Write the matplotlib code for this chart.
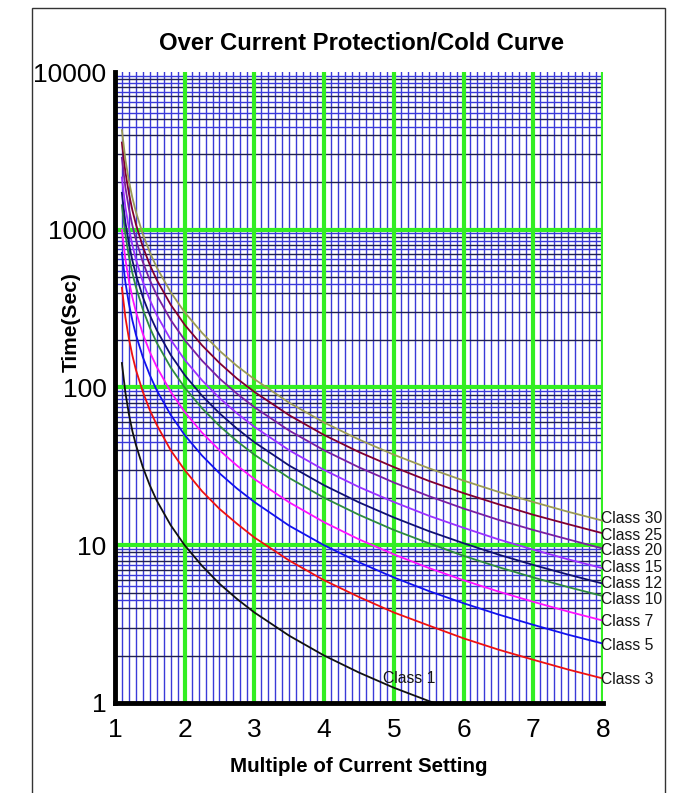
import matplotlib
matplotlib.use('Agg')
import matplotlib.pyplot as plt
from matplotlib.patches import Rectangle

plt.rcParams['font.family'] = ['Liberation Sans', 'DejaVu Sans']

# Multiple of current setting where curves were read
multiple = [1.1, 1.15, 1.2, 1.25, 1.3, 1.4, 1.5, 1.6, 1.8, 2, 2.25, 2.5, 2.75,
            3, 3.5, 4, 4.5, 5, 5.5, 6, 6.5, 7, 7.5, 8]

# Trip times (sec) for each class
class1 = [143, 93, 68, 53, 43.5, 31.3, 24, 19.2, 13.4, 10, 7.4, 5.7, 4.57,
          3.75, 2.67, 2.0, 1.56, 1.25, 1.03, 0.86, 0.73, 0.63, 0.54, 0.48]
class3 = [429, 279, 205, 160, 130, 94, 72, 58, 40, 30, 22, 17, 13.7,
          11.2, 8.0, 6.0, 4.7, 3.75, 3.1, 2.57, 2.18, 1.88, 1.63, 1.43]
class5 = [714, 465, 341, 267, 217, 156, 120, 96, 67, 50, 37, 28.6, 22.9,
          18.8, 13.3, 10.0, 7.8, 6.25, 5.13, 4.29, 3.64, 3.13, 2.71, 2.38]
class7 = [1000, 651, 477, 373, 304, 219, 168, 135, 94, 70, 51.7, 40, 32,
          26.3, 18.7, 14.0, 10.9, 8.75, 7.18, 6.0, 5.09, 4.38, 3.80, 3.33]
class10 = [1429, 930, 682, 533, 435, 313, 240, 192, 134, 100, 73.8, 57.1, 45.7,
           37.5, 26.7, 20.0, 15.6, 12.5, 10.3, 8.57, 7.27, 6.25, 5.43, 4.76]
class12 = [1714, 1116, 818, 640, 522, 375, 288, 231, 161, 120, 88.6, 68.6, 54.9,
           45, 32, 24, 18.7, 15, 12.3, 10.3, 8.73, 7.5, 6.52, 5.71]
class15 = [2143, 1395, 1023, 800, 652, 469, 360, 288, 201, 150, 111, 85.7, 68.6,
           56.3, 40, 30, 23.4, 18.8, 15.4, 12.9, 10.9, 9.38, 8.14, 7.14]
class20 = [2857, 1860, 1364, 1067, 870, 625, 480, 385, 268, 200, 148, 114, 91.4,
           75, 53.3, 40, 31.2, 25, 20.5, 17.1, 14.5, 12.5, 10.9, 9.52]
class25 = [3571, 2326, 1705, 1333, 1087, 781, 600, 481, 335, 250, 185, 143, 114,
           93.8, 66.7, 50, 39, 31.3, 25.6, 21.4, 18.2, 15.6, 13.6, 11.9]
class30 = [4286, 2791, 2045, 1600, 1304, 938, 720, 577, 402, 300, 222, 171, 137,
           113, 80, 60, 46.8, 37.5, 30.8, 25.7, 21.8, 18.8, 16.3, 14.3]

class_names = ['Class 1', 'Class 3', 'Class 5', 'Class 7', 'Class 10', 'Class 12',
               'Class 15', 'Class 20', 'Class 25', 'Class 30']
class_curves = [class1, class3, class5, class7, class10, class12,
                class15, class20, class25, class30]
class_colors = ['#111111', '#ee1111', '#1111ee', '#ff11ff', '#2e8b3e', '#101070',
                '#9b30ff', '#7a1fa0', '#800030', '#9a9a55']
# where the right-hand labels sit (sec)
label_y = [None, 1.4, 2.3, 3.3, 4.55, 5.75, 7.26, 9.2, 11.6, 14.8]

x_ticks = [1, 2, 3, 4, 5, 6, 7, 8]
y_ticks = [1, 10, 100, 1000, 10000]
y_tick_labels = ['1', '10', '100', '1000', '10000']

fig = plt.figure(figsize=(6.84, 7.93), dpi=100)
ax = fig.add_axes([0.168, 0.1135, 0.7135, 0.7957])
ax.set_yscale('log')
ax.set_xlim(1, 8)
ax.set_ylim(1, 10000)

# graph paper grid
for i in range(10, 81):
    xv = i / 10
    if i % 10 == 0:
        ax.axvline(xv, color='#33ee22', lw=3, zorder=1)
    else:
        ax.axvline(xv, color='#3a3ad8', lw=1, zorder=0.5)
for dec in [1, 10, 100, 1000]:
    for k in [2, 3, 4, 5, 6, 7, 8, 9]:
        ax.axhline(dec * k, color='#202050', lw=1, zorder=0.6)
    for k in [4.5, 5.5, 6.5, 7.5, 8.5, 9.5]:
        ax.axhline(dec * k, color='#3a3ad8', lw=1, zorder=0.5)
for yv in [10, 100, 1000]:
    ax.axhline(yv, color='#33ee22', lw=3, zorder=1)

for name, vals, col, ly in zip(class_names, class_curves, class_colors, label_y):
    ax.plot(multiple, vals, color=col, lw=1.3, zorder=3)
    if ly is not None:
        ax.text(7.97, ly, name, fontsize=11.3, color='#151515', va='center',
                ha='left', clip_on=False, zorder=4)
ax.text(4.85, 1.42, 'Class 1', fontsize=11.3, color='#151515', va='center',
        ha='left', zorder=4)

for s in ['top', 'right']:
    ax.spines[s].set_visible(False)
for s in ['left', 'bottom']:
    ax.spines[s].set_linewidth(3.5)
    ax.spines[s].set_color('black')
    ax.spines[s].set_zorder(5)

ax.set_xticks(x_ticks)
ax.set_xticklabels([str(v) for v in x_ticks], fontsize=19)
ax.set_yticks(y_ticks)
ax.set_yticklabels(y_tick_labels, fontsize=19)
ax.minorticks_off()
ax.tick_params(axis='y', length=0, pad=6)
ax.tick_params(axis='x', length=0, pad=11)

fig.text(0.528, 0.945, 'Over Current Protection/Cold Curve', fontsize=17.2,
         fontweight='bold', ha='center', va='center')
fig.text(0.525, 0.034, 'Multiple of Current Setting', fontsize=14.8,
         fontweight='bold', ha='center', va='center')
fig.text(0.104, 0.594, 'Time(Sec)', fontsize=15, fontweight='bold',
         ha='center', va='center', rotation=90)

fig.patches.append(Rectangle((32 / 684, -0.05), (665 - 32) / 684, 1 - 8 / 793 + 0.05,
                             transform=fig.transFigure, fill=False,
                             edgecolor='#333333', lw=1))

fig.savefig('out.png', dpi=100)
